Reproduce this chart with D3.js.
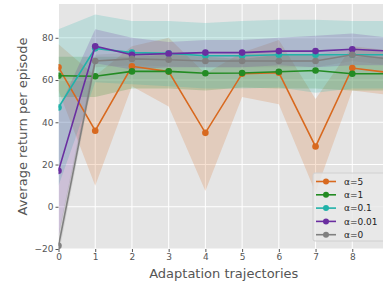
<!DOCTYPE html>
<html>
<head>
<meta charset="utf-8">
<script src="https://cdn.jsdelivr.net/npm/d3@7"></script>
<style>
  body { margin: 0; background: #fff; }
  svg { display: block; font-family: "DejaVu Sans", sans-serif; }
</style>
</head>
<body>
<div id="chart"></div>
<script>
var w = 383;
var h = 282;

// trajectories 0..9
var steps = [0, 1, 2, 3, 4, 5, 6, 7, 8, 9];

var labels = ["\u03b1=5", "\u03b1=1", "\u03b1=0.1", "\u03b1=0.01", "\u03b1=0"];
var colors = ["#d8691f", "#238b23", "#21b2a9", "#6a2ea0", "#808080"];

var mean5 = [66, 36, 66.5, 64, 35, 63, 63.5, 28.5, 65.7, 63.5];
var low5 = [55, 10, 57, 47.5, 7.5, 52, 48.5, 6.7, 55, 53];
var high5 = [77, 62, 76, 80, 63, 73, 79, 51, 76, 74];

var mean1 = [62, 61.8, 64.1, 64.1, 63.2, 63.3, 63.9, 64.5, 63, 63];
var low1 = [52, 52, 56, 56, 55, 56.5, 56, 56, 55, 55];
var high1 = [71, 71, 71, 72, 71, 70, 72, 72, 71, 71];

var mean01 = [47, 75, 73, 72.6, 71.5, 71.5, 72, 72, 72, 72];
var low01 = [10, 59, 58, 57, 56, 56, 56.5, 54, 56, 56];
var high01 = [84, 91, 88, 88, 87, 88, 88.5, 88.5, 88, 88];

var mean001 = [17, 76, 72, 72.5, 73, 73, 73.7, 73.7, 74.6, 73.7];
var low001 = [-14, 68, 65, 66, 66, 66, 67, 66, 67, 67];
var high001 = [46, 84, 80, 78, 79, 79, 80, 81, 82, 80];

var mean0 = [-18.5, 69, 70, 69.6, 69, 69, 69, 69, 72, 70];
var low0 = [-23, 66, 67, 66.5, 66, 66, 66, 66, 69, 67];
var high0 = [-13, 72, 73, 72.5, 72, 72, 72, 72, 75, 73];

var means = [mean5, mean1, mean01, mean001, mean0];
var lows = [low5, low1, low01, low001, low0];
var highs = [high5, high1, high01, high001, high0];

var yTicks = [-20, 0, 20, 40, 60, 80];
var xTicks = [0, 1, 2, 3, 4, 5, 6, 7, 8];

var margin = {top: 4, left: 58.5, bottom: 249};
var plotRight = 389;

var svg = d3.select("#chart")
    .append("svg")
    .attr("width", w)
    .attr("height", h);

var x = d3.scaleLinear().domain([0, 9]).range([margin.left, plotRight]);
var y = d3.scaleLinear().domain([-20, 96]).range([margin.bottom, margin.top]);

svg.append("rect")
    .attr("x", margin.left)
    .attr("y", margin.top)
    .attr("width", plotRight - margin.left)
    .attr("height", margin.bottom - margin.top)
    .attr("fill", "#e5e5e5");

// grid
svg.selectAll(".gx")
    .data(xTicks)
    .enter()
    .append("line")
    .attr("x1", function(d) { return x(d); })
    .attr("x2", function(d) { return x(d); })
    .attr("y1", margin.top)
    .attr("y2", margin.bottom)
    .attr("stroke", "#fff")
    .attr("stroke-width", 1);

svg.selectAll(".gy")
    .data(yTicks)
    .enter()
    .append("line")
    .attr("x1", margin.left)
    .attr("x2", plotRight)
    .attr("y1", function(d) { return y(d); })
    .attr("y2", function(d) { return y(d); })
    .attr("stroke", "#fff")
    .attr("stroke-width", 1);

svg.append("clipPath").attr("id", "clip")
    .append("rect")
    .attr("x", margin.left)
    .attr("y", margin.top)
    .attr("width", plotRight - margin.left)
    .attr("height", margin.bottom - margin.top);

var g = svg.append("g").attr("clip-path", "url(#clip)");

var area = d3.area()
    .x(function(d) { return x(d.s); })
    .y0(function(d) { return y(d.lo); })
    .y1(function(d) { return y(d.hi); });

var line = d3.line()
    .x(function(d) { return x(d.s); })
    .y(function(d) { return y(d.m); });

var series = means.map(function(m, k) {
    return steps.map(function(s, i) {
        return {s: s, m: m[i], lo: lows[k][i], hi: highs[k][i]};
    });
});

series.forEach(function(d, k) {
    g.append("path")
        .datum(d)
        .attr("d", area)
        .attr("fill", colors[k])
        .attr("fill-opacity", 0.2);
});

series.forEach(function(d, k) {
    g.append("path")
        .datum(d)
        .attr("d", line)
        .attr("fill", "none")
        .attr("stroke", colors[k])
        .attr("stroke-width", 1.6);
    g.selectAll(".dot" + k)
        .data(d)
        .enter()
        .append("circle")
        .attr("cx", function(p) { return x(p.s); })
        .attr("cy", function(p) { return y(p.m); })
        .attr("r", 3.3)
        .attr("fill", colors[k]);
});

// axes
var xAxis = svg.append("g")
    .attr("transform", "translate(0," + margin.bottom + ")")
    .call(d3.axisBottom(x).tickValues(xTicks).tickSize(3).tickPadding(2));
var yAxis = svg.append("g")
    .attr("transform", "translate(" + margin.left + ",0)")
    .call(d3.axisLeft(y).tickValues(yTicks).tickSize(3).tickPadding(2));

[xAxis, yAxis].forEach(function(a) {
    a.select(".domain").remove();
    a.selectAll("line").attr("stroke", "#555");
    a.selectAll("text")
        .attr("fill", "#555")
        .style("font-size", "9px")
        .style("font-family", "DejaVu Sans");
});

svg.append("text")
    .attr("x", (margin.left + plotRight) / 2)
    .attr("y", 278)
    .attr("text-anchor", "middle")
    .attr("fill", "#555")
    .style("font-size", "13px")
    .text("Adaptation trajectories");

svg.append("text")
    .attr("transform", "translate(27," + ((margin.top + margin.bottom) / 2) + ") rotate(-90)")
    .attr("text-anchor", "middle")
    .attr("fill", "#555")
    .style("font-size", "13px")
    .text("Average return per episode");

// legend
var leg = svg.append("g").attr("transform", "translate(313,173)");
leg.append("rect")
    .attr("width", 76)
    .attr("height", 68)
    .attr("rx", 2)
    .attr("fill", "#e8e8e8")
    .attr("fill-opacity", 0.8)
    .attr("stroke", "#d0d0d0");

labels.forEach(function(t, k) {
    var yy = 8.5 + k * 13.3;
    leg.append("line")
        .attr("x1", 3).attr("x2", 23)
        .attr("y1", yy).attr("y2", yy)
        .attr("stroke", colors[k])
        .attr("stroke-width", 1.6);
    leg.append("circle")
        .attr("cx", 13).attr("cy", yy).attr("r", 3)
        .attr("fill", colors[k]);
    leg.append("text")
        .attr("x", 31).attr("y", yy + 3.3)
        .attr("fill", "#222")
        .style("font-size", "9px")
        .text(t);
});
</script>
</body>
</html>
